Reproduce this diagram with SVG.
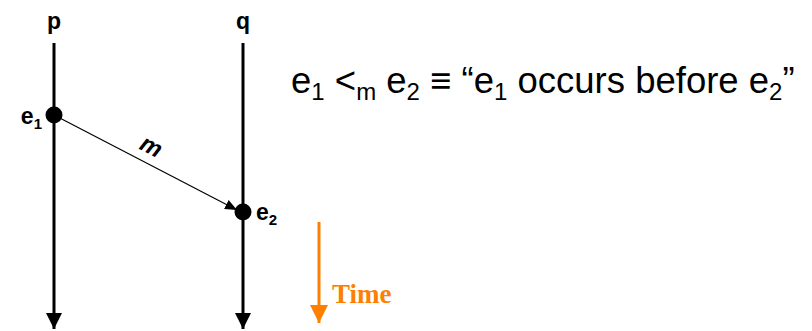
<svg xmlns="http://www.w3.org/2000/svg" width="812" height="331" viewBox="0 0 812 331">
<defs>
<style>
.lbl{font-family:"Liberation Sans",Arial,sans-serif;font-weight:bold;font-size:23px;fill:#000}
.sub{font-size:15px}
.formula{font-family:"Liberation Sans",Arial,sans-serif;font-size:36.5px;fill:#000}
.fsub{font-size:24px}
.proc{stroke:#000;stroke-width:3;fill:none}
.ev{fill:#000}
</style>
<marker id="bighead" markerWidth="16" markerHeight="16" viewBox="0 0 16 16" refX="16" refY="8" orient="auto" markerUnits="userSpaceOnUse">
<path d="M0,0 L16,8 L0,16 Z" fill="#000"/>
</marker>
<marker id="msghead" markerWidth="12" markerHeight="10" viewBox="0 0 12 10" refX="12" refY="5" orient="auto" markerUnits="userSpaceOnUse">
<path d="M0,0 L12,5 L0,10 Z" fill="#000"/>
</marker>
<marker id="timehead" markerWidth="18" markerHeight="18" viewBox="0 0 18 18" refX="18" refY="9" orient="auto" markerUnits="userSpaceOnUse">
<path d="M0,0 L18,9 L0,18 Z" fill="#FF7F00"/>
</marker>
</defs>
<rect width="812" height="331" fill="#fff"/>
<g id="connectors">
<line id="proc-p" class="proc" x1="54" y1="43" x2="54" y2="329" marker-end="url(#bighead)"/>
<line id="proc-q" class="proc" x1="243" y1="43" x2="243" y2="329" marker-end="url(#bighead)"/>
<line id="msg-m" x1="54" y1="115" x2="237" y2="210" stroke="#000" stroke-width="1.2" marker-end="url(#msghead)"/>
<text x="151" y="154" class="lbl" text-anchor="middle" style="font-style:italic;font-size:24px" transform="rotate(27 151 147)">m</text>
</g>
<g id="node-p"><text x="54" y="29" class="lbl" text-anchor="middle">p</text></g>
<g id="node-q"><text x="243" y="29" class="lbl" text-anchor="middle">q</text></g>
<g id="node-e1">
<circle class="ev" cx="54" cy="115" r="8.5"/>
<text x="42" y="124" class="lbl" text-anchor="end">e<tspan class="sub" dy="5">1</tspan></text>
</g>
<g id="node-e2">
<circle class="ev" cx="243" cy="212" r="8.5"/>
<text x="256" y="220" class="lbl">e<tspan class="sub" dy="5">2</tspan></text>
</g>
<g id="time">
<line x1="319" y1="222" x2="319" y2="323" stroke="#FF7F00" stroke-width="3" marker-end="url(#timehead)"/>
<text x="332" y="303" font-family="'Liberation Serif','Times New Roman',serif" font-weight="bold" font-size="27" fill="#FF7F00">Time</text>
</g>
<g id="formula">
<text x="291" y="93" class="formula">e<tspan class="fsub" dy="7">1</tspan><tspan dy="-7"> &lt;</tspan><tspan class="fsub" dy="7">m</tspan><tspan dy="-7"> e</tspan><tspan class="fsub" dy="7">2</tspan><tspan dy="-7"> ≡ “e</tspan><tspan class="fsub" dy="7">1</tspan><tspan dy="-7"> occurs before e</tspan><tspan class="fsub" dy="7">2</tspan><tspan dy="-7">”</tspan></text>
</g>
</svg>
